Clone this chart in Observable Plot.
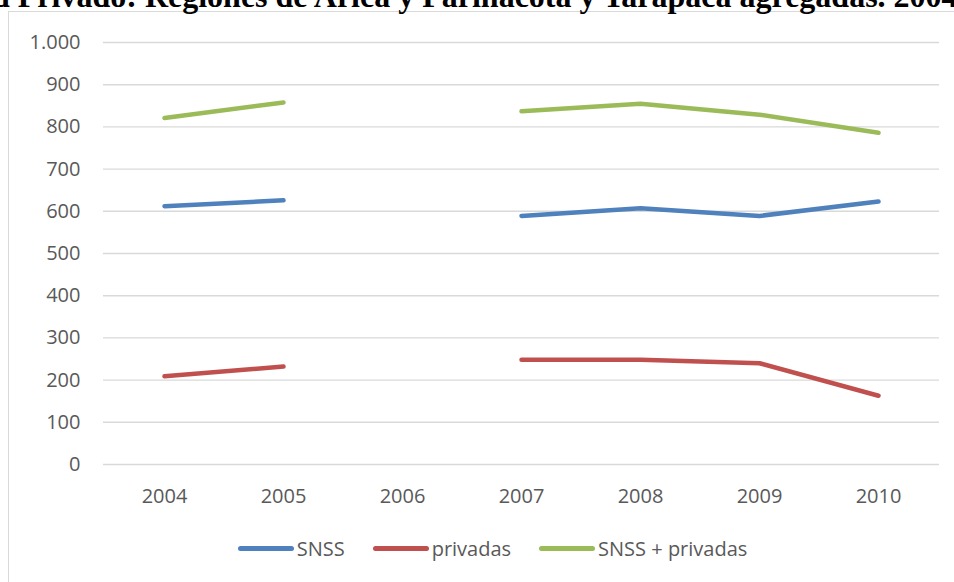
<!DOCTYPE html>
<html><head><meta charset="utf-8">
<script src="https://cdn.jsdelivr.net/npm/d3@7"></script>
<script src="https://cdn.jsdelivr.net/npm/@observablehq/plot@0.6"></script>
<style>
body{margin:0;background:#fff;}
#wrap{position:relative;width:954px;height:582px;overflow:hidden;background:#fff;}
#box{position:absolute;left:8px;top:11px;width:980px;height:620px;border:1.5px solid #d9d9d9;box-sizing:border-box;}
#chart{position:absolute;left:0;top:0;}
#title{position:absolute;left:-8px;top:-20px;white-space:nowrap;font-family:"Liberation Serif",serif;font-weight:bold;font-size:32px;line-height:32px;color:#000;}
#legend{position:absolute;left:8px;width:969px;top:535px;display:flex;justify-content:center;align-items:center;font-family:"Open Sans",sans-serif;font-size:20px;color:#595959;}
.item{display:flex;align-items:center;margin:0 14px;}
.sw{width:56px;height:5px;border-radius:3px;margin-right:3px;}
</style>
</head><body>
<div id="wrap">
  <div id="box"></div>
  <div id="chart"></div>
  <div id="title">d Privado: Regiones de Arica y Parinacota y Tarapacá agregadas. 2004</div>
  <div id="legend"></div>
</div>
<script>
const years = ["2004","2005","2006","2007","2008","2009","2010"];
const seriesNames = ["SNSS","privadas","SNSS + privadas"];
const snss = [612, 626, null, 589, 607, 589, 623];
const privadas = [209, 232, null, 248, 248, 240, 163];
const total = [821, 858, null, 837, 855, 829, 786];
const colors = ["#4f81bd","#c0504d","#9bbb59"];
const yTicks = [0,100,200,300,400,500,600,700,800,900,1000];

const seriesValues = [snss, privadas, total];
const data = [];
seriesNames.forEach((name, i) => {
  years.forEach((yr, j) => {
    data.push({series: name, year: yr, value: seriesValues[i][j]});
  });
});

const fmt = d => d3.format(",")(d).replace(/,/g, ".");

const chart = Plot.plot({
  width: 954,
  height: 520,
  marginTop: 42,
  marginBottom: 56,
  marginLeft: 103,
  marginRight: 15,
  style: {fontFamily: "'Open Sans', sans-serif", fontSize: "20px", color: "#595959", background: "transparent", overflow: "visible"},
  x: {type: "point", domain: years, padding: 0.5, label: null},
  y: {domain: [0, 1000], label: null},
  color: {domain: seriesNames, range: colors},
  marks: [
    Plot.gridY(yTicks, {stroke: "#d9d9d9", strokeOpacity: 1, strokeWidth: 1.4}),
    Plot.axisY({ticks: yTicks, tickSize: 0, tickPadding: 23, tickFormat: fmt, label: null}),
    Plot.axisX({tickSize: 0, tickPadding: 24, label: null}),
    Plot.line(data, {x: "year", y: "value", z: "series", stroke: "series", strokeWidth: 4.5, strokeLinecap: "round", strokeLinejoin: "round"})
  ]
});
document.getElementById("chart").appendChild(chart);

const legend = document.getElementById("legend");
seriesNames.forEach((name, i) => {
  const it = document.createElement("div");
  it.className = "item";
  const sw = document.createElement("div");
  sw.className = "sw";
  sw.style.background = colors[i];
  const lb = document.createElement("span");
  lb.textContent = name;
  it.appendChild(sw);
  it.appendChild(lb);
  legend.appendChild(it);
});
</script>
</body></html>
